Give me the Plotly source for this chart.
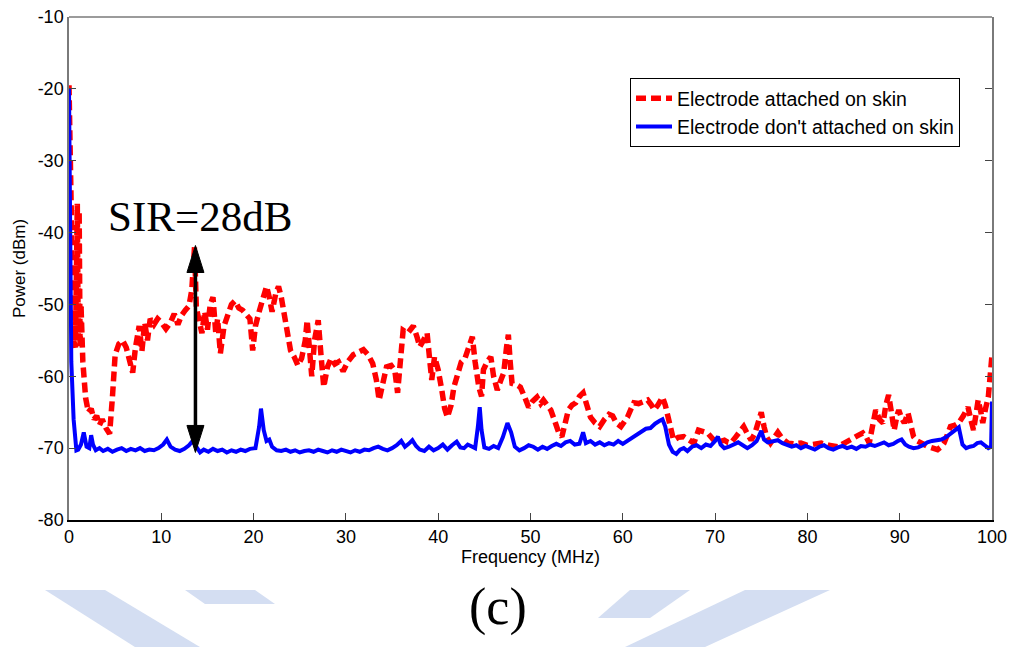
import plotly.graph_objects as go

# ---------------- data ----------------
red_f = [0, 0.15, 0.3, 0.5, 0.7, 0.9, 1.0, 1.1, 1.2, 1.3, 1.5, 1.8, 2.1, 2.4, 2.7, 3.0, 3.3, 3.6, 4.0, 4.4,
         4.7, 5.0, 5.4, 5.8, 6.2, 6.6, 6.9, 7.2, 7.6, 7.9, 8.2, 8.5, 8.8, 9.2, 9.6, 10.0, 10.5, 11.0, 11.4, 11.8,
         12.2, 12.6, 13.0, 13.3, 13.6, 13.8, 14.1, 14.4, 14.7, 15.0, 15.3, 15.6, 15.9, 16.1, 16.4, 16.8, 17.2,
         17.6, 18.0, 18.4, 18.8, 19.2, 19.6, 19.9, 20.2, 20.6, 21.0, 21.4, 21.7, 22.0, 22.4, 22.7, 23.0, 23.3,
         23.7, 24.0, 24.4, 24.8, 25.2, 25.6, 25.8, 26.0, 26.3, 26.6, 27.0, 27.3, 27.6, 28.0, 28.4, 28.8, 29.2,
         29.7, 30.2, 30.8, 31.4, 31.9, 32.4, 32.9, 33.3, 33.6, 34.0, 34.4, 34.9, 35.3, 35.6, 35.9, 36.2, 36.7,
         37.0, 37.3, 37.7, 38.0, 38.4, 38.8, 39.1, 39.3, 39.6, 40.0, 40.4, 40.7, 41.0, 41.4, 41.7, 42.1, 42.5,
         42.9, 43.3, 43.7, 44.0, 44.4, 44.7, 44.9, 45.3, 45.7, 46.0, 46.4, 46.8, 47.1, 47.4, 47.6, 47.8, 48.0,
         48.5, 48.9, 49.4, 49.8, 50.2, 50.7, 51.1, 51.4, 51.8, 52.2, 52.7, 53.1, 53.4, 53.8, 54.1, 54.5, 54.9,
         55.3, 55.7, 56.1, 56.5, 57.0, 57.5, 58.0, 58.5, 58.9, 59.3, 59.8, 60.2, 60.5, 60.9, 61.2, 61.7, 62.2,
         62.7, 63.1, 63.4, 63.8, 64.3, 64.6, 64.9, 65.2, 65.5, 66.0, 66.6, 67.1, 67.7, 68.2, 68.7, 69.2, 69.8,
         70.3, 70.7, 71.0, 71.4, 71.7, 72.2, 72.7, 73.1, 73.5, 73.9, 74.3, 74.7, 75.0, 75.3, 75.6, 76.0, 76.4,
         76.8, 77.3, 77.9, 78.5, 79.3, 80.0, 80.7, 81.5, 82.3, 83.3, 84.0, 84.7, 85.4, 86.0, 86.4, 86.7, 87.0,
         87.4, 87.8, 88.2, 88.5, 88.8, 89.1, 89.4, 89.7, 89.9, 90.2, 90.5, 90.9, 91.2, 91.5, 91.9, 92.3, 92.7,
         93.1, 93.6, 94.1, 94.5, 94.8, 95.2, 95.5, 96.0, 96.4, 96.9, 97.4, 97.7, 98.0, 98.3, 98.5, 98.8, 99.0,
         99.3, 99.6, 99.8, 100]
red_p = [-19.5, -30, -45, -55, -56, -36, -55, -37, -56, -50, -58, -63, -65, -64.5, -66, -65.5, -66.8, -66, -67.2, -68,
         -63, -57, -55.5, -55, -56, -58.5, -59.5, -56, -53, -56.5, -52.5, -55, -52, -52.8, -52, -52.5, -53.4, -52.5, -51.3, -52.8,
         -51.5, -50.8, -50.2, -48, -42, -50.5, -52, -54, -51, -53.5, -50, -49, -54, -52, -56.8, -53, -51.5,
         -50, -49.5, -50.5, -50.8, -51.3, -52, -56.4, -53, -51, -49, -47.5, -49, -51, -48.5, -47.5, -49, -51,
         -54, -56.4, -57.3, -58.5, -57.5, -55, -52.2, -56, -60, -55, -52.2, -57, -61.5, -58.7, -57.5, -58.3, -58,
         -59.3, -58, -57, -56.6, -56.3, -57, -58.2, -60.5, -63.3, -61, -58.7, -58.5, -59.2, -62.3, -57, -53.6, -54,
         -53.5, -53, -54.5, -55.9, -55, -54, -58, -60.5, -57.3, -59.1, -62, -64.5, -65.7, -64, -61.5, -60, -58,
         -57.5, -56, -54.5, -58, -61.5, -62.8, -59.1, -58, -57.3, -60, -61.9, -60.5, -59.5, -56, -54.2, -58, -61,
         -61.2, -61.5, -63, -64.3, -63.5, -62.9, -63.8, -63.3, -64, -64.7, -66.5, -68, -68.4, -66, -64.7, -64, -63.7,
         -62.8, -62.3, -64, -65.7, -66.5, -67, -66, -65.3, -65.5, -66.5, -67, -66.3, -65.7, -64.5, -63.7, -63.8, -63.5,
         -63.3, -64, -64.7, -64, -62.9, -64, -65.7, -67.5, -68.9, -68.5, -68.4, -68.8, -69.3, -67.5, -67.7, -67.9, -68.8,
         -69.3, -69, -68.9, -69.2, -69.3, -68.5, -67.5, -67, -68, -68.9, -68, -66.5, -65, -67, -68.5, -69.3, -68.5,
         -67.8, -68.7, -69.3, -69.4, -69.3, -69.6, -69.4, -69.3, -69.6, -69.8, -69.3, -68.9, -68.3, -67.9, -68.5, -69.3, -67,
         -64.7, -66, -66.5, -64, -62.6, -65, -67.5, -65.5, -64.7, -65.8, -66.5, -65.1, -66.5, -68.4, -69, -69.3, -69.5,
         -69.8, -70, -70.2, -69.8, -69.3, -68, -67, -66.8, -66.5, -65.5, -64.3, -66, -67.5, -65, -63.3, -65, -66.5,
         -64.5, -62.9, -60, -57]

blue_f = [0, 0.1, 0.25, 0.5, 0.8, 1.0, 1.3, 1.6, 1.9, 2.2, 2.4, 2.6, 2.9, 3.3, 3.7, 4.2, 4.7, 5.2, 5.7, 6.2,
          6.7, 7.2, 7.7, 8.2, 8.7, 9.2, 9.7, 10.2, 10.6, 11.0, 11.5, 12.0, 12.5, 13.0, 13.4, 13.8, 14.2, 14.6,
          15.1, 15.6, 16.1, 16.6, 17.1, 17.6, 18.1, 18.6, 19.1, 19.6, 20.2, 20.6, 20.8, 21.1, 21.4, 21.7, 22.0,
          22.5, 23.0, 23.5, 24.0, 24.5, 25.0, 25.5, 26.0, 26.5, 27.0, 27.5, 28.0, 28.5, 29.0, 29.5, 30.0, 30.5,
          31.0, 31.5, 32.0, 32.5, 33.0, 33.5, 34.0, 34.5, 35.0, 35.5, 36.0, 36.4, 36.8, 37.2, 37.6, 38.0, 38.5,
          39.0, 39.5, 40.0, 40.5, 41.0, 41.5, 42.0, 42.4, 42.8, 43.2, 43.6, 44.0, 44.3, 44.5, 44.7, 45.0, 45.5,
          46.0, 46.5, 47.0, 47.5, 47.9, 48.3, 48.8, 49.3, 49.8, 50.3, 50.8, 51.3, 51.8, 52.3, 52.8, 53.3, 53.8,
          54.3, 54.8, 55.3, 55.7, 56.0, 56.5, 57.0, 57.5, 58.0, 58.5, 59.0, 59.5, 60.0, 60.5, 61.0, 61.5, 62.0,
          62.5, 63.0, 63.5, 64.0, 64.3, 64.6, 65.0, 65.4, 65.8, 66.2, 66.6, 67.0, 67.5, 68.0, 68.5, 69.0, 69.5,
          70.0, 70.3, 70.6, 71.0, 71.5, 72.0, 72.5, 73.0, 73.5, 74.0, 74.5, 75.0, 75.3, 75.7, 76.2, 76.8, 77.3,
          77.8, 78.3, 78.8, 79.3, 79.8, 80.3, 80.8, 81.3, 81.8, 82.3, 82.8, 83.3, 83.8, 84.3, 84.8, 85.3, 85.8,
          86.3, 86.8, 87.3, 87.8, 88.3, 88.8, 89.3, 89.8, 90.2, 90.6, 91.0, 91.5, 92.0, 92.5, 93.0, 93.5, 94.0,
          94.5, 95.0, 95.5, 96.0, 96.4, 96.8, 97.2, 97.6, 98.0, 98.4, 98.8, 99.2, 99.6, 99.9, 100]
blue_p = [-20, -40, -58, -66, -70.3, -70.2, -69.5, -67.8, -69.8, -70.0, -68.2, -69.5, -70.3, -70.0, -70.4, -70.1, -70.5, -70.2, -70.0, -70.4,
          -70.1, -70.3, -70.0, -70.4, -70.2, -70.3, -70.0, -69.5, -68.8, -69.8, -70.2, -70.4, -70.1, -69.6, -69.0, -69.8, -70.6, -70.2,
          -70.5, -70.1, -70.4, -70.2, -70.6, -70.3, -70.5, -70.2, -70.4, -70.1, -70.0, -67.0, -64.5, -67.5, -69.0, -68.8, -69.8,
          -70.3, -70.4, -70.2, -70.5, -70.3, -70.6, -70.4, -70.3, -70.5, -70.2, -70.4, -70.6, -70.3, -70.5, -70.2, -70.4, -70.6,
          -70.3, -70.5, -70.2, -70.3, -70.0, -69.8, -70.1, -70.3, -70.0, -69.6, -69.0, -69.8, -69.4, -68.9, -69.7, -70.2, -70.4,
          -69.8, -70.3, -70.0, -69.5, -70.2, -69.6, -69.1, -69.9, -70.0, -69.5, -69.8, -70.0, -67.0, -64.3, -67.5, -69.9, -70.1,
          -69.7, -70.0, -68.5, -66.5, -67.8, -69.8, -70.3, -70.0, -69.6, -69.8, -70.2, -69.8, -70.1, -69.7, -69.4, -69.7, -69.2,
          -69.0, -69.5, -69.4, -67.8, -69.3, -69.0, -69.5, -69.2, -69.6, -69.3, -69.5, -69.0, -69.4, -69.0, -68.6, -68.2, -67.8,
          -67.3, -67.2, -66.6, -66.2, -66.0, -67.0, -69.5, -70.5, -70.8, -70.2, -70.0, -70.4, -69.8, -69.6, -70.0, -69.5, -69.7,
          -69.0, -68.4, -69.5, -70.0, -69.8, -69.5, -69.2, -69.6, -70.0, -69.6, -69.0, -67.6, -68.8, -69.2, -69.0, -68.9, -69.3,
          -69.5, -69.8, -69.6, -70.0, -69.7, -69.9, -70.2, -69.8, -69.6, -70.0, -70.2, -69.9, -69.7, -70.0, -69.8, -70.1, -69.7,
          -69.8, -69.5, -69.7, -69.5, -69.2, -69.6, -69.4, -69.0, -68.8, -69.5, -69.8, -70.0, -69.9, -69.6, -69.2, -69.0, -68.9,
          -68.8, -68.5, -68.0, -67.5, -67.1, -69.5, -70.0, -69.8, -69.7, -69.3, -69.2, -69.6, -70.0, -69.8, -63.5]

x_ticks = [0, 10, 20, 30, 40, 50, 60, 70, 80, 90, 100]
y_ticks = [-80, -70, -60, -50, -40, -30, -20, -10]

red_name = "Electrode attached on skin"
blue_name = "Electrode don't attached on skin"

# SIR annotation
sir_freq = 13.7
sir_top = -41.8
sir_bottom = -70.6
sir_text = "SIR=28dB"
caption = "(c)"

# ---------------- figure ----------------
W, H = 1016, 647
L, R, T, B = 69, 24, 17, 127
pw, ph = W - L - R, H - T - B
XR = (0, 100)
YR = (-80, -10)


def px2paper(px, py):
    return (px - L) / pw, (H - B - py) / ph


fig = go.Figure()
fig.add_trace(go.Scatter(x=red_f, y=red_p, mode="lines", name=red_name,
                         line=dict(color="#ff0000", width=5.5, dash="10px,5px")))
fig.add_trace(go.Scatter(x=blue_f, y=blue_p, mode="lines", name=blue_name,
                         line=dict(color="#0000ff", width=4)))

# double-headed arrow (line + two triangle heads)
head_len = 27 / ph * (YR[1] - YR[0])
head_half = 8.5 / pw * (XR[1] - XR[0])
fig.add_shape(type="line", x0=sir_freq, x1=sir_freq, y0=sir_top - head_len * 0.5,
              y1=sir_bottom + head_len * 0.5, line=dict(color="black", width=3.5))
for tip, sgn in ((sir_top, -1), (sir_bottom, 1)):
    base = tip + sgn * head_len
    path = f"M{sir_freq},{tip} L{sir_freq - head_half},{base} L{sir_freq + head_half},{base} Z"
    fig.add_shape(type="path", path=path, fillcolor="black", line=dict(color="black", width=1))

fig.add_annotation(x=sir_freq, y=sir_top, xref="x", yref="y", text=sir_text, showarrow=False,
                   yanchor="bottom", yshift=4, xshift=5,
                   font=dict(family="Liberation Serif", size=43, color="black"))

# caption
cx, cy = px2paper(498, 607)
fig.add_annotation(x=cx, y=cy, xref="paper", yref="paper", text=caption, showarrow=False,
                   xanchor="center", yanchor="middle",
                   font=dict(family="Liberation Serif", size=52, color="black"))

# watermark (light-blue decorative bands at the bottom)
wm_polys = [
    [(45, 590), (105, 590), (200, 647), (135, 647)],
    [(185, 590), (255, 590), (275, 604), (205, 604)],
    [(745, 590), (830, 590), (705, 647), (625, 647)],
    [(630, 590), (690, 590), (650, 618), (598, 618)],
]
for poly in wm_polys:
    pts = [px2paper(a, b) for a, b in poly]
    path = "M" + " L".join(f"{a:.4f},{b:.4f}" for a, b in pts) + " Z"
    fig.add_shape(type="path", path=path, xref="paper", yref="paper", layer="below",
                  fillcolor="#d4def2", line=dict(width=0))

# top border
fig.add_shape(type="line", xref="paper", yref="paper", x0=0, x1=1, y0=1, y1=1,
              line=dict(color="#7a7a7a", width=1.5))

axis_font = dict(family="Liberation Sans", size=18, color="black")
fig.update_layout(
    width=W, height=H,
    margin=dict(l=L, r=R, t=T, b=B, autoexpand=False),
    paper_bgcolor="white", plot_bgcolor="white",
    font=axis_font,
    showlegend=True,
    legend=dict(x=(960 - L) / pw, y=(H - B - 78) / ph, xanchor="right", yanchor="top",
                bgcolor="white", bordercolor="black", borderwidth=1,
                font=dict(family="Liberation Sans", size=19.5, color="black"),
                tracegroupgap=0, itemwidth=36),
    xaxis=dict(range=list(XR), tickvals=x_ticks, ticktext=[str(v) for v in x_ticks],
               ticks="inside", ticklen=7, tickcolor="#444", showgrid=False, zeroline=False,
               showline=True, linecolor="black", linewidth=1.5, mirror=False,
               title=dict(text="Frequency (MHz)", font=axis_font, standoff=4),
               tickfont=axis_font, automargin=False),
    yaxis=dict(range=list(YR), tickvals=y_ticks, ticktext=[str(v) for v in y_ticks],
               ticks="inside", ticklen=7, tickcolor="#444", showgrid=False, zeroline=False,
               showline=True, linecolor="#7a7a7a", linewidth=1.5, mirror="ticks",
               title=dict(text="Power (dBm)", font=dict(family="Liberation Sans", size=17, color="black"),
                          standoff=8),
               tickfont=axis_font, automargin=False),
)

fig.write_html("out.html")
